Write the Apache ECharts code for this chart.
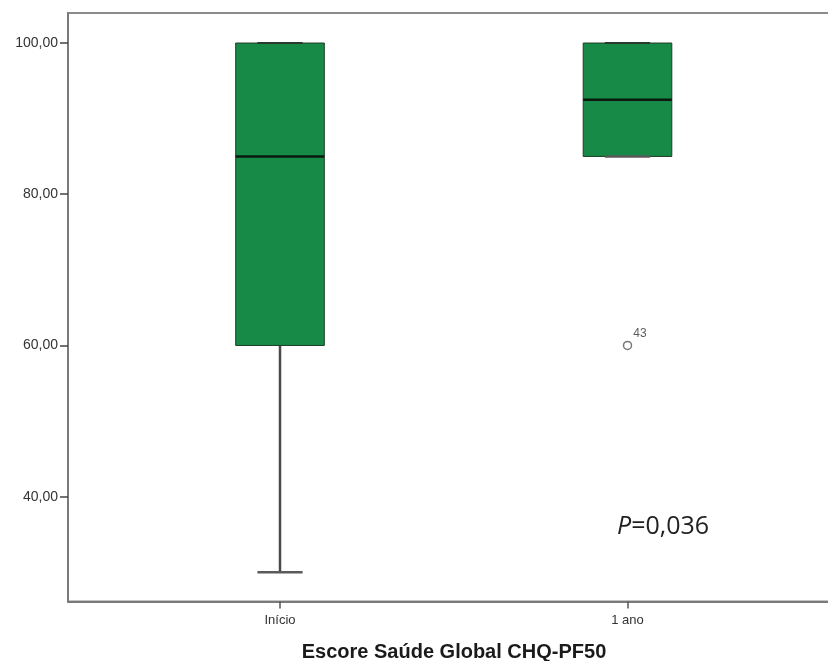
<!DOCTYPE html>
<html>
<head>
<meta charset="utf-8">
<script src="https://cdn.jsdelivr.net/npm/echarts@6/dist/echarts.min.js"></script>
<style>
html,body{margin:0;padding:0;background:#fff;overflow:hidden;width:828px;height:661px;}
#chart{width:850px;height:661px;}
</style>
</head>
<body>
<div id="chart"></div>
<script>
var categories = ['Início', '1 ano'];
var mins    = [30, 85];
var q1s     = [60, 85];
var medians = [85, 92.5];
var q3s     = [100, 100];
var maxs    = [100, 100];
var outlierCategory = [1];
var outlierValues   = [60];
var outlierLabels   = ['43'];
var yTicks = [40, 60, 80, 100];
var axisTitle = 'Escore Saúde Global CHQ-PF50';
var pText = 'P';
var pValue = '=0,036';

var boxData = categories.map(function (c, i) {
  return [i + 1, mins[i], q1s[i], medians[i], q3s[i], maxs[i]];
});
var outlierData = outlierCategory.map(function (ci, k) {
  return { value: [ci + 1, outlierValues[k]], label: outlierLabels[k] };
});

var chart = echarts.init(document.getElementById('chart'));
chart.setOption({
  animation: false,
  backgroundColor: '#fff',
  grid: { left: 68, top: 13, right: 18, bottom: 59.5, show: true, borderColor: '#8a8a8a', borderWidth: 2 },
  xAxis: {
    type: 'value', min: 0.3899, max: 2.5885,
    axisLine: { show: true, onZero: false, lineStyle: { color: '#7a7a7a', width: 2 } },
    axisTick: { show: true, customValues: [1, 2], length: 7, lineStyle: { color: '#555', width: 1.5 } },
    axisLabel: { customValues: [1, 2], margin: 12, fontFamily: 'Liberation Sans', fontSize: 13, color: '#333',
      formatter: function (v) { return categories[Math.round(v) - 1] || ''; } },
    splitLine: { show: false }
  },
  yAxis: {
    type: 'value', min: 26.14, max: 103.97,
    axisLine: { show: true, lineStyle: { color: '#7a7a7a', width: 2 } },
    axisTick: { show: true, customValues: yTicks, length: 8, lineStyle: { color: '#444', width: 1.5 } },
    axisLabel: { customValues: yTicks, margin: 10, fontFamily: 'Liberation Sans', fontSize: 14, color: '#333',
      formatter: function (v) { return v.toFixed(2).replace('.', ','); } },
    splitLine: { show: false }
  },
  series: [
    {
      type: 'custom',
      data: boxData,
      encode: { x: 0, y: [1, 2, 3, 4, 5] },
      renderItem: function (params, api) {
        var x = api.value(0);
        var bw = api.size([0.255, 0])[0];
        var cw = api.size([0.13, 0])[0];
        var pMin = api.coord([x, api.value(1)]);
        var pQ1 = api.coord([x, api.value(2)]);
        var pMed = api.coord([x, api.value(3)]);
        var pQ3 = api.coord([x, api.value(4)]);
        var pMax = api.coord([x, api.value(5)]);
        var cx = pMin[0];
        var wStyle = { stroke: '#4a4a4a', lineWidth: 2.5 };
        return {
          type: 'group',
          children: [
            { type: 'line', shape: { x1: cx, y1: pMin[1], x2: cx, y2: pQ1[1] }, style: wStyle },
            { type: 'line', shape: { x1: cx, y1: pQ3[1], x2: cx, y2: pMax[1] }, style: wStyle },
            { type: 'rect', shape: { x: cx - bw / 2, y: pQ3[1], width: bw, height: pQ1[1] - pQ3[1] },
              style: { fill: '#168a46', stroke: '#1f3d26', lineWidth: 1 } },
            { type: 'line', shape: { x1: cx - bw / 2, y1: pMed[1], x2: cx + bw / 2, y2: pMed[1] },
              style: { stroke: '#0a1a0e', lineWidth: 2.5 } },
            { type: 'line', shape: { x1: cx - cw / 2, y1: pMin[1], x2: cx + cw / 2, y2: pMin[1] },
              style: { stroke: '#5a5a5a', lineWidth: 2.5 } },
            { type: 'line', shape: { x1: cx - cw / 2, y1: pMax[1], x2: cx + cw / 2, y2: pMax[1] },
              style: { stroke: '#2a3a2e', lineWidth: 2 } }
          ]
        };
      },
      z: 2
    },
    {
      type: 'scatter',
      data: outlierData,
      symbol: 'circle',
      symbolSize: 8,
      itemStyle: { color: '#fff', borderColor: '#555', borderWidth: 1.5 },
      label: {
        show: true, position: 'right', distance: 1, offset: [0, -12],
        fontFamily: 'Liberation Sans', fontSize: 12, color: '#333',
        formatter: function (p) { return p.data.label; }
      },
      z: 3
    }
  ],
  graphic: [
    { type: 'text', x: 454, y: 652,
      style: { text: axisTitle, align: 'center', verticalAlign: 'middle',
        font: 'bold 20px "Liberation Sans"', fill: '#1a1a1a' } },
    { type: 'text', x: 617, y: 527,
      style: { text: '{i|' + pText + '}{n|' + pValue + '}', verticalAlign: 'middle', align: 'left',
        rich: {
          i: { fontFamily: 'Open Sans', fontSize: 25, fontStyle: 'italic', fill: '#222', color: '#222' },
          n: { fontFamily: 'Open Sans', fontSize: 25, fill: '#222', color: '#222' }
        } } }
  ]
});
</script>
</body>
</html>
